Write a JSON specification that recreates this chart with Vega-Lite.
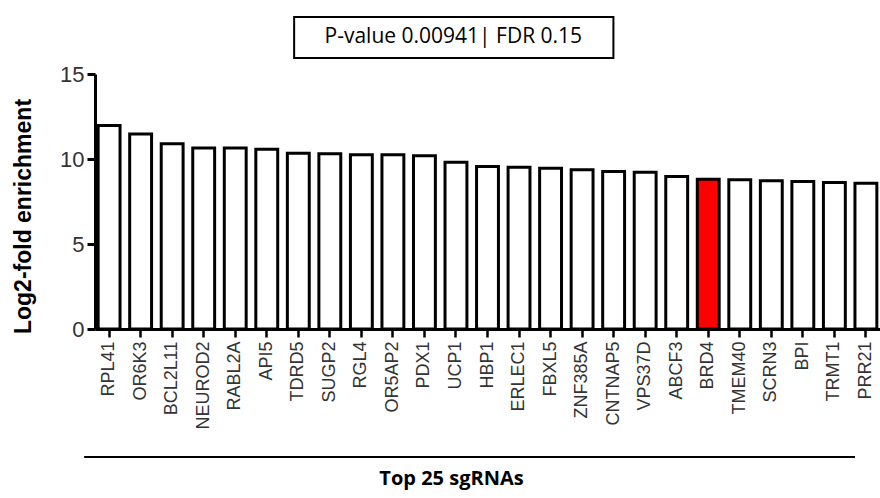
{
  "$schema": "https://vega.github.io/schema/vega-lite/v6.json",
  "width": 785,
  "height": 255,
  "autosize": {"type": "none"},
  "padding": {"left": 95, "top": 74, "right": 0, "bottom": 169},
  "background": "white",
  "config": {"view": {"stroke": null}, "font": "Liberation Sans"},
  "datasets": {
    "genes": [
      {"gene": "RPL41", "enrichment": 11.97},
      {"gene": "OR6K3", "enrichment": 11.47},
      {"gene": "BCL2L11", "enrichment": 10.89},
      {"gene": "NEUROD2", "enrichment": 10.64},
      {"gene": "RABL2A", "enrichment": 10.64},
      {"gene": "API5", "enrichment": 10.58},
      {"gene": "TDRD5", "enrichment": 10.34},
      {"gene": "SUGP2", "enrichment": 10.31},
      {"gene": "RGL4", "enrichment": 10.25},
      {"gene": "OR5AP2", "enrichment": 10.25},
      {"gene": "PDX1", "enrichment": 10.19},
      {"gene": "UCP1", "enrichment": 9.81},
      {"gene": "HBP1", "enrichment": 9.56},
      {"gene": "ERLEC1", "enrichment": 9.52},
      {"gene": "FBXL5", "enrichment": 9.46},
      {"gene": "ZNF385A", "enrichment": 9.37},
      {"gene": "CNTNAP5", "enrichment": 9.27},
      {"gene": "VPS37D", "enrichment": 9.22},
      {"gene": "ABCF3", "enrichment": 8.97},
      {"gene": "BRD4", "enrichment": 8.81},
      {"gene": "TMEM40", "enrichment": 8.78},
      {"gene": "SCRN3", "enrichment": 8.72},
      {"gene": "BPI", "enrichment": 8.68},
      {"gene": "TRMT1", "enrichment": 8.62},
      {"gene": "PRR21", "enrichment": 8.57}
    ],
    "note": [{"label": "P-value 0.00941|  FDR 0.15"}]
  },
  "layer": [
    {
      "data": {"name": "genes"},
      "mark": {"type": "bar", "stroke": "black", "strokeWidth": 3},
      "encoding": {
        "x": {
          "field": "gene",
          "type": "nominal",
          "sort": null,
          "title": "Top 25 sgRNAs",
          "scale": {"paddingInner": 0.306, "paddingOuter": 0.1},
          "axis": {
            "labelAngle": -90,
            "labelAlign": "right",
            "labelBaseline": "middle",
            "labelFontSize": 18,
            "labelColor": "#333333",
            "labelPadding": 4,
            "tickSize": 8,
            "tickWidth": 2.5,
            "tickColor": "black",
            "domainColor": "black",
            "domainWidth": 3,
            "titleFont": "Open Sans",
            "titleFontSize": 20,
            "titleFontWeight": "bold",
            "titleColor": "black",
            "titleX": 356,
            "titleY": 149,
            "titleBaseline": "middle"
          }
        },
        "y": {
          "field": "enrichment",
          "type": "quantitative",
          "title": "Log2-fold enrichment",
          "scale": {"domain": [0, 15], "nice": false},
          "axis": {
            "values": [0, 5, 10, 15],
            "grid": false,
            "labelFontSize": 22,
            "labelColor": "#333333",
            "labelPadding": 3,
            "tickSize": 8,
            "tickWidth": 3,
            "tickColor": "black",
            "domainColor": "black",
            "domainWidth": 3,
            "titleFontSize": 23,
            "titleFontWeight": "bold",
            "titleColor": "black",
            "titlePadding": 24,
            "titleY": 142
          }
        },
        "fill": {
          "condition": {"test": "datum.gene === 'BRD4'", "value": "#ff0000"},
          "value": "white"
        }
      }
    },
    {
      "data": {"name": "note"},
      "mark": {"type": "rect", "fill": "white", "stroke": "black", "strokeWidth": 2},
      "encoding": {
        "x": {"datum": "TDRD5", "bandPosition": 0.31},
        "x2": {"datum": "CNTNAP5", "bandPosition": 0.49},
        "y": {"datum": 18.35},
        "y2": {"datum": 15.94}
      }
    },
    {
      "data": {"name": "note"},
      "mark": {"type": "text", "font": "Open Sans", "fontSize": 21, "color": "black", "align": "center", "baseline": "middle"},
      "encoding": {
        "x": {"datum": "UCP1", "bandPosition": 0.38},
        "y": {"datum": 17.18},
        "text": {"field": "label"}
      }
    },
    {
      "data": {"name": "note"},
      "mark": {"type": "rule", "stroke": "black", "strokeWidth": 2},
      "encoding": {
        "x": {"datum": "RPL41", "bandPosition": -0.64},
        "x2": {"datum": "PRR21", "bandPosition": 0},
        "y": {"datum": -7.53}
      }
    }
  ]
}
